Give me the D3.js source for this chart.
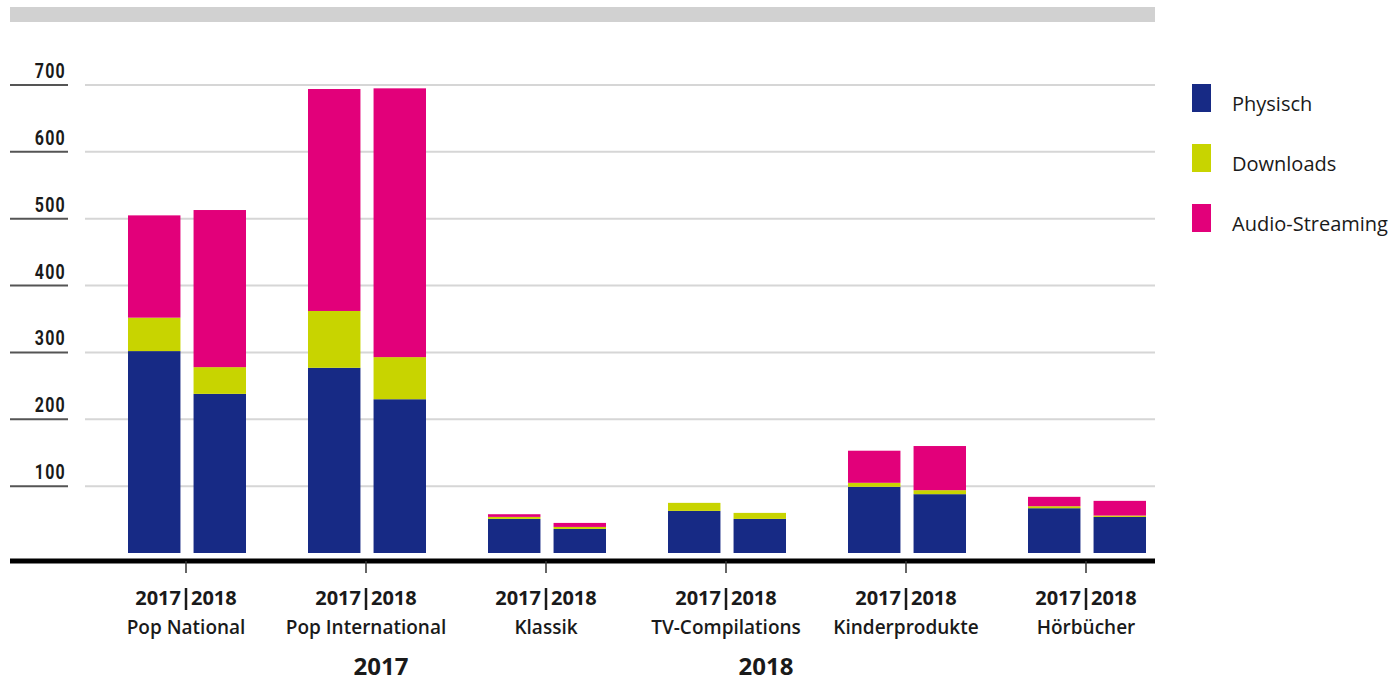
<!DOCTYPE html>
<html>
<head>
<meta charset="utf-8">
<script src="https://cdn.jsdelivr.net/npm/d3@7"></script>
<style>
  body { margin: 0; background: #fff; }
  text { font-family: "Open Sans", "Noto Sans", sans-serif; fill: #1a1a1a; }
  .ylab { font-family: Roboto, "Liberation Sans", sans-serif; font-weight: bold; font-size: 20px; letter-spacing: 1.5px; }
</style>
</head>
<body>
<div class="chart"></div>
<script>
// Umsatzanteile je Genre, 2017 und 2018
const categories = ["Pop National", "Pop International", "Klassik", "TV-Compilations", "Kinderprodukte", "Hörbücher"];
const years = ["2017", "2018"];
const seriesNames = ["Physisch", "Downloads", "Audio-Streaming"];
const colors = ["#172a85", "#c8d400", "#e2007a"];

// [2017, 2018] je Kategorie
const physisch = [[302, 238], [277, 230], [51, 36], [63, 51], [99, 88], [67, 54]];
const downloads = [[50, 40], [85, 63], [3, 3], [12, 9], [6, 6], [3, 2]];
const streaming = [[153, 235], [332, 402], [4, 6], [0, 0], [48, 66], [14, 22]];

const yTicks = [100, 200, 300, 400, 500, 600, 700];

const width = 1390;
const height = 681;

const svg = d3.select("div.chart")
    .append("svg")
    .attr("width", width)
    .attr("height", height);

const y = d3.scaleLinear().domain([0, 700]).range([553, 85]);
const x = d3.scaleBand().domain(categories).range([96, 1176]).padding(0);
const inner = d3.scaleBand().domain(years).range([-58, 60]).paddingInner(0.2).paddingOuter(0);

// top grey band
svg.append("rect")
    .attr("x", 10).attr("y", 7)
    .attr("width", 1145).attr("height", 15)
    .attr("fill", "#d1d1d1");

// grid and y ticks
const grid = svg.append("g");
grid.selectAll("line.grid")
    .data(yTicks)
    .enter()
    .append("line")
    .attr("x1", 85).attr("x2", 1155)
    .attr("y1", d => y(d)).attr("y2", d => y(d))
    .attr("stroke", "#d6d6d6")
    .attr("stroke-width", 2);
grid.selectAll("line.tick")
    .data(yTicks)
    .enter()
    .append("line")
    .attr("x1", 10).attr("x2", 68)
    .attr("y1", d => y(d)).attr("y2", d => y(d))
    .attr("stroke", "#555")
    .attr("stroke-width", 2);
// schmale Zahlen: horizontal gestaucht
grid.selectAll("text")
    .data(yTicks)
    .enter()
    .append("text")
    .attr("class", "ylab")
    .attr("transform", d => `translate(66,${y(d) - 7}) scale(0.8,1)`)
    .attr("text-anchor", "end")
    .text(d => d);

// stacked data
const rows = [];
categories.forEach((c, i) => {
    years.forEach((yr, j) => {
        rows.push({ cat: c, year: yr, "Physisch": physisch[i][j], "Downloads": downloads[i][j], "Audio-Streaming": streaming[i][j] });
    });
});
const stacked = d3.stack().keys(seriesNames)(rows);

svg.append("g")
    .selectAll("g")
    .data(stacked)
    .enter()
    .append("g")
    .attr("fill", (d, i) => colors[i])
    .selectAll("rect")
    .data(d => d)
    .enter()
    .append("rect")
    .attr("x", d => x(d.data.cat) + x.bandwidth() / 2 + inner(d.data.year))
    .attr("width", inner.bandwidth())
    .attr("y", d => y(d[1]))
    .attr("height", d => Math.max(0, y(d[0]) - y(d[1])));

// x axis
svg.append("line")
    .attr("x1", 10).attr("x2", 1155)
    .attr("y1", 561).attr("y2", 561)
    .attr("stroke", "#000")
    .attr("stroke-width", 5);

const xg = svg.append("g")
    .selectAll("g")
    .data(categories)
    .enter()
    .append("g")
    .attr("transform", d => `translate(${x(d) + x.bandwidth() / 2},0)`);
xg.append("line")
    .attr("y1", 561).attr("y2", 573)
    .attr("stroke", "#333")
    .attr("stroke-width", 1.5);
xg.append("text")
    .attr("x", -5).attr("y", 605)
    .attr("text-anchor", "end")
    .style("font-weight", 700).style("font-size", "20px")
    .text(years[0]);
xg.append("text")
    .attr("x", 5).attr("y", 605)
    .attr("text-anchor", "start")
    .style("font-weight", 700).style("font-size", "20px")
    .text(years[1]);
xg.append("line")
    .attr("y1", 588).attr("y2", 610)
    .attr("stroke", "#1a1a1a")
    .attr("stroke-width", 2.5);
xg.append("text")
    .attr("y", 634)
    .attr("text-anchor", "middle")
    .style("font-weight", 600).style("font-size", "19px")
    .text(d => d);

// year captions at the bottom
const captionX = d3.scalePoint().domain(years).range([381, 766]);
svg.selectAll("text.caption")
    .data(years)
    .enter()
    .append("text")
    .attr("class", "caption")
    .attr("x", d => captionX(d))
    .attr("y", 675)
    .attr("text-anchor", "middle")
    .style("font-weight", 700).style("font-size", "24px")
    .text(d => d);

// legend
const legend = svg.append("g")
    .selectAll("g")
    .data(seriesNames)
    .enter()
    .append("g")
    .attr("transform", (d, i) => `translate(1192,${84 + i * 60})`);
legend.append("rect")
    .attr("width", 19).attr("height", 28)
    .attr("fill", (d, i) => colors[i]);
legend.append("text")
    .attr("x", 40).attr("y", 27)
    .style("font-size", "20px")
    .text(d => d);
</script>
</body>
</html>
